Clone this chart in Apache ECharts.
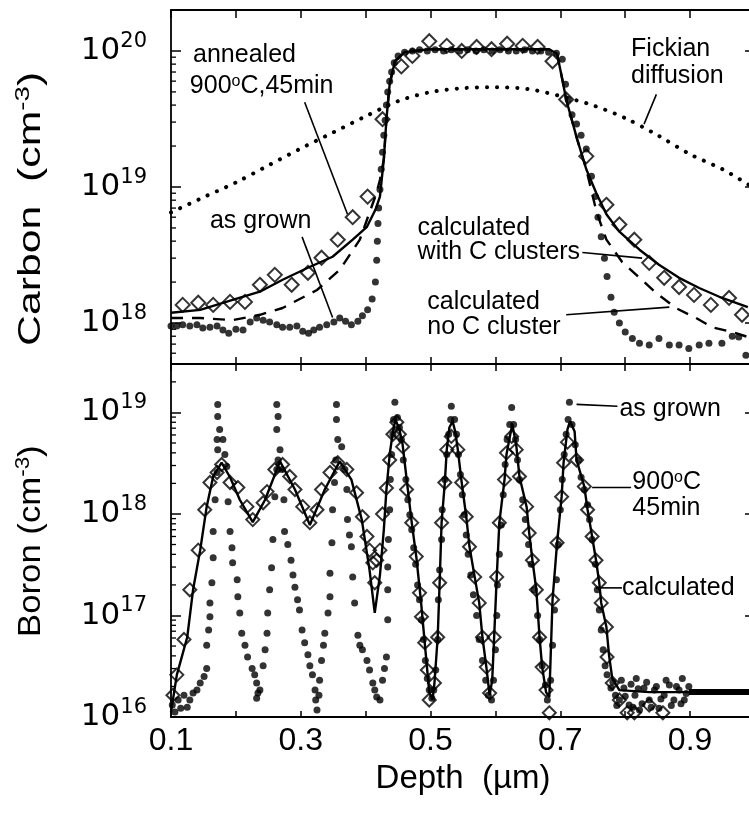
<!DOCTYPE html>
<html>
<head>
<meta charset="utf-8">
<script src="https://cdn.jsdelivr.net/npm/echarts@6/dist/echarts.min.js"></script>
<style>html,body{margin:0;padding:0;background:#fff;}#c{width:749px;height:815px;}</style>
</head>
<body>
<div id="c"></div>
<script>
// ---------- DATA (depth in µm, concentration in cm^-3) ----------
const xTickValues = [0.1, 0.3, 0.5, 0.7, 0.9];
const carbonMinorTicks = [6e17,7e17,8e17,9e17,2e18,3e18,4e18,5e18,6e18,7e18,8e18,9e18,2e19,3e19,4e19,5e19,6e19,7e19,8e19,9e19];
const boronMinorTicks = [2e16,3e16,4e16,5e16,6e16,7e16,8e16,9e16,2e17,3e17,4e17,5e17,6e17,7e17,8e17,9e17,2e18,3e18,4e18,5e18,6e18,7e18,8e18,9e18,2e19];

const carbonFickian = [[0.100,6.5e18],[0.150,8.4e18],[0.200,1.08e19],[0.250,1.44e19],[0.300,1.92e19],[0.350,2.52e19],[0.400,3.31e19],[0.450,4.28e19],[0.500,4.98e19],[0.550,5.33e19],[0.600,5.42e19],[0.650,5.25e19],[0.700,4.66e19],[0.750,3.99e19],[0.800,3.21e19],[0.850,2.40e19],[0.900,1.74e19],[0.950,1.35e19],[0.990,1.04e19]];

const carbonCalcNoCluster = [[0.100,1.09e18],[0.145,1.09e18],[0.195,1.05e18],[0.237,1.15e18],[0.272,1.29e18],[0.325,1.75e18],[0.360,2.46e18],[0.391,4.1e18],[0.406,6.5e18],[0.417,9.1e18],[0.422,1.13e19],[0.428,1.6e19],[0.432,3.15e19],[0.437,5.7e19],[0.445,8.4e19],[0.460,9.8e19],[0.498,1.03e20],[0.606,1.03e20],[0.683,1.03e20],[0.695,9.5e19],[0.703,6.2e19],[0.709,4.4e19],[0.726,2.24e19],[0.740,1.35e19],[0.756,6.5e18],[0.771,4.1e18],[0.795,2.82e18],[0.822,2.15e18],[0.848,1.66e18],[0.878,1.29e18],[0.909,1.09e18],[0.934,9.3e17],[0.965,8.6e17],[0.989,7.9e17]];

const carbonCalcClusters = [[0.100,1.19e18],[0.145,1.25e18],[0.195,1.48e18],[0.237,1.7e18],[0.272,2.08e18],[0.311,2.55e18],[0.349,3.07e18],[0.380,4.1e18],[0.402,5.1e18],[0.415,6.8e18],[0.422,8.5e18],[0.428,1.6e19],[0.432,3.15e19],[0.437,5.7e19],[0.445,8.4e19],[0.460,9.8e19],[0.498,1.03e20],[0.606,1.03e20],[0.683,1.03e20],[0.695,9.5e19],[0.703,6.2e19],[0.709,4.4e19],[0.726,2.24e19],[0.740,1.35e19],[0.755,9.1e18],[0.771,6.3e18],[0.791,4.7e18],[0.822,3.46e18],[0.852,2.68e18],[0.883,2.15e18],[0.914,1.81e18],[0.945,1.56e18],[0.989,1.31e18]];

const carbonAnnealed = [[0.118,1.36e18],[0.142,1.41e18],[0.165,1.36e18],[0.191,1.43e18],[0.214,1.43e18],[0.237,1.91e18],[0.260,2.26e18],[0.286,1.91e18],[0.311,2.34e18],[0.332,3.02e18],[0.357,4.1e18],[0.380,6.0e18],[0.403,8.5e18],[0.426,3.15e19],[0.455,7.7e19],[0.472,9.2e19],[0.498,1.18e20],[0.525,1.09e20],[0.548,1.0e20],[0.571,1.07e20],[0.594,1.03e20],[0.618,1.13e20],[0.642,1.09e20],[0.665,1.07e20],[0.688,8.4e19],[0.709,4.4e19],[0.740,1.68e19],[0.771,7.4e18],[0.791,5.3e18],[0.814,4.1e18],[0.837,2.77e18],[0.860,2.15e18],[0.883,1.84e18],[0.906,1.61e18],[0.932,1.36e18],[0.960,1.53e18],[0.980,1.15e18]];

const carbonAsGrown = [[0.100,9.5e17],[0.109,9.5e17],[0.118,9.7e17],[0.129,9.5e17],[0.140,9.7e17],[0.149,9.2e17],[0.160,9.3e17],[0.171,9.5e17],[0.180,8.9e17],[0.189,8.4e17],[0.200,9.0e17],[0.211,8.9e17],[0.222,1.02e18],[0.232,1.09e18],[0.242,1.05e18],[0.252,1.02e18],[0.263,9.7e17],[0.272,9.3e17],[0.283,9.3e17],[0.294,9.5e17],[0.303,8.7e17],[0.312,8.4e17],[0.320,8.9e17],[0.329,9.3e17],[0.340,9.7e17],[0.351,1.02e18],[0.360,1.09e18],[0.369,1.03e18],[0.378,9.7e17],[0.388,1.03e18],[0.395,1.13e18],[0.403,1.25e18],[0.410,1.5e18],[0.415,2.0e18],[0.417,2.9e18],[0.418,4.0e18],[0.419,5.4e18],[0.420,7.0e18],[0.422,9.6e18],[0.424,1.35e19],[0.426,1.8e19],[0.428,2.4e19],[0.430,3.1e19],[0.432,4.0e19],[0.434,5.0e19],[0.437,6.0e19],[0.440,7.0e19],[0.444,8.2e19],[0.450,9.2e19],[0.460,9.8e19],[0.472,1.0e20],[0.483,1.02e20],[0.495,1.0e20],[0.507,1.02e20],[0.520,1.0e20],[0.532,1.02e20],[0.545,1.0e20],[0.557,1.02e20],[0.570,1.0e20],[0.582,1.02e20],[0.595,1.0e20],[0.607,1.02e20],[0.620,1.0e20],[0.632,1.0e20],[0.645,1.02e20],[0.657,1.0e20],[0.670,1.0e20],[0.682,9.8e19],[0.694,9.6e19],[0.703,8.7e19],[0.708,5.7e19],[0.712,4.4e19],[0.718,3.4e19],[0.725,2.9e19],[0.732,2.4e19],[0.740,1.9e19],[0.748,1.2e19],[0.754,8.5e18],[0.758,6.0e18],[0.763,4.3e18],[0.768,3.0e18],[0.772,2.2e18],[0.778,1.55e18],[0.783,1.2e18],[0.791,1.0e18],[0.800,8.6e17],[0.811,7.7e17],[0.822,7.1e17],[0.837,6.9e17],[0.852,7.7e17],[0.868,6.9e17],[0.883,6.9e17],[0.898,6.5e17],[0.914,6.9e17],[0.929,7.1e17],[0.949,7.1e17],[0.965,8.0e17],[0.975,7.9e17],[0.986,5.8e17]];

const boronCalculated = [[0.100,1.12e16],[0.109,2.6e16],[0.125,6.1e16],[0.134,1.79e17],[0.145,4.4e17],[0.155,1.18e18],[0.165,2.34e18],[0.178,3.2e18],[0.191,2.3e18],[0.206,1.38e18],[0.226,8.3e17],[0.245,1.38e18],[0.268,3.3e18],[0.291,1.74e18],[0.314,7.8e17],[0.337,1.74e18],[0.360,3.3e18],[0.378,2.18e18],[0.394,8.8e17],[0.406,2.8e17],[0.414,1.06e17],[0.422,2.5e17],[0.428,7.0e17],[0.432,1.74e18],[0.437,3.85e18],[0.442,6.5e18],[0.446,8.5e18],[0.452,6.8e18],[0.457,4.8e18],[0.465,1.74e18],[0.471,8.2e17],[0.478,3.8e17],[0.485,1.43e17],[0.491,5.4e16],[0.498,1.76e16],[0.503,1.47e16],[0.506,2.16e16],[0.511,6.1e16],[0.514,2.1e17],[0.517,8.2e17],[0.522,2.04e18],[0.525,4.3e18],[0.529,7.1e18],[0.534,8.2e18],[0.538,6.5e18],[0.542,4.3e18],[0.548,2.04e18],[0.555,9.4e17],[0.560,4.75e17],[0.568,2.4e17],[0.575,1.33e17],[0.580,6.1e16],[0.586,3.1e16],[0.591,1.64e16],[0.595,2.3e16],[0.598,6.1e16],[0.602,2.4e17],[0.606,8.2e17],[0.614,2.18e18],[0.617,3.85e18],[0.622,5.7e18],[0.626,7.6e18],[0.632,4.8e18],[0.637,2.34e18],[0.648,1.18e18],[0.652,6.5e17],[0.657,3.5e17],[0.663,1.79e17],[0.668,6.1e16],[0.672,3.1e16],[0.678,1.76e16],[0.683,1.57e16],[0.688,1.43e17],[0.695,5.2e17],[0.702,1.48e18],[0.705,3.2e18],[0.711,6.8e18],[0.715,8.2e18],[0.722,6.5e18],[0.725,3.4e18],[0.737,1.86e18],[0.742,1.1e18],[0.749,6.0e17],[0.755,3.5e17],[0.760,2.1e17],[0.763,1.33e17],[0.771,7.7e16],[0.775,4.1e16],[0.780,2.4e16],[0.791,1.84e16],[0.837,1.76e16],[0.914,1.76e16],[0.989,1.76e16]];

const boronAnnealed = [[0.103,1.64e16],[0.109,2.6e16],[0.120,5.8e16],[0.129,1.79e17],[0.142,4.4e17],[0.152,1.1e18],[0.160,2.04e18],[0.171,2.56e18],[0.178,3.07e18],[0.191,2.04e18],[0.203,1.82e18],[0.217,1.18e18],[0.226,8.8e17],[0.242,1.29e18],[0.248,1.66e18],[0.260,2.74e18],[0.272,3.07e18],[0.283,2.34e18],[0.291,1.74e18],[0.303,1.18e18],[0.314,8.2e17],[0.325,1.1e18],[0.332,1.74e18],[0.345,2.56e18],[0.357,3.2e18],[0.371,2.74e18],[0.386,1.62e18],[0.395,9.4e17],[0.402,6.0e17],[0.406,4.4e17],[0.411,3.3e17],[0.414,2.1e17],[0.417,3.5e17],[0.422,4.4e17],[0.426,1.0e18],[0.432,1.8e18],[0.437,3.4e18],[0.442,6.1e18],[0.448,8.0e18],[0.452,6.1e18],[0.457,4.6e18],[0.463,1.74e18],[0.471,8.2e17],[0.478,3.8e17],[0.483,1.67e17],[0.486,9.7e16],[0.491,5.4e16],[0.495,2.9e16],[0.498,1.47e16],[0.503,9.5e15],[0.506,2.16e16],[0.511,6.1e16],[0.514,2.1e17],[0.517,8.2e17],[0.522,2.04e18],[0.525,4.3e18],[0.532,5.8e18],[0.542,4.3e18],[0.548,2.04e18],[0.555,9.4e17],[0.560,4.75e17],[0.568,2.4e17],[0.575,1.33e17],[0.580,6.1e16],[0.586,3.1e16],[0.591,1.72e16],[0.594,9.5e15],[0.598,6.1e16],[0.602,2.4e17],[0.606,8.2e17],[0.614,2.18e18],[0.617,4.0e18],[0.625,5.8e18],[0.632,4.3e18],[0.637,2.34e18],[0.648,1.18e18],[0.652,6.5e17],[0.657,3.5e17],[0.663,1.79e17],[0.668,6.1e16],[0.672,3.1e16],[0.678,1.84e16],[0.683,1.1e16],[0.688,1.43e17],[0.695,5.2e17],[0.702,1.48e18],[0.705,3.2e18],[0.711,5.1e18],[0.725,3.4e18],[0.737,1.86e18],[0.742,1.1e18],[0.749,6.0e17],[0.755,3.5e17],[0.760,2.1e17],[0.763,1.33e17],[0.771,7.7e16],[0.772,3.9e16],[0.780,2.16e16],[0.791,1.47e16],[0.803,1.1e16],[0.814,1.1e16],[0.837,1.31e16],[0.858,1.1e16],[0.883,9.5e15]];

const boronAsGrown = [[0.102,1.31e16],[0.106,1.12e16],[0.111,1.47e16],[0.115,1.22e16],[0.120,1.64e16],[0.125,1.25e16],[0.129,1.47e16],[0.134,1.72e16],[0.140,1.84e16],[0.145,2.16e16],[0.151,2.5e16],[0.155,3.0e16],[0.155,5.1e16],[0.158,7.2e16],[0.160,9.7e16],[0.160,1.33e17],[0.163,2.1e17],[0.165,3.7e17],[0.165,6.7e17],[0.168,1.38e18],[0.171,2.56e18],[0.172,4.3e18],[0.171,5.4e18],[0.175,6.8e18],[0.172,9.1e18],[0.172,1.2e19],
[0.180,5.4e18],[0.183,3.85e18],[0.186,2.93e18],[0.188,1.32e18],[0.191,6.7e17],[0.194,4.65e17],[0.195,3.3e17],[0.202,2.25e17],[0.203,1.53e17],[0.206,1.06e17],[0.209,6.7e16],[0.214,5.1e16],[0.218,3.9e16],[0.225,3.0e16],[0.229,2.6e16],[0.232,2.16e16],[0.234,1.72e16],[0.232,1.53e16],
[0.237,1.84e16],[0.242,3.2e16],[0.245,4.6e16],[0.248,6.7e16],[0.249,1.06e17],[0.252,1.79e17],[0.255,2.95e17],[0.257,5.6e17],[0.260,1.48e18],[0.263,2.74e18],[0.265,3.4e18],[0.268,4.3e18],[0.263,6.8e18],[0.265,9.1e18],[0.263,1.2e19],
[0.271,2.74e18],[0.274,1.38e18],[0.275,6.7e17],[0.280,5.0e17],[0.285,3.5e17],[0.288,2.5e17],[0.291,1.9e17],[0.295,1.43e17],[0.298,1.13e17],[0.302,7.2e16],[0.306,5.4e16],[0.311,4.1e16],[0.314,3.2e16],[0.318,2.6e16],[0.322,1.84e16],[0.323,1.47e16],[0.325,1.17e16],
[0.328,1.64e16],[0.329,2.3e16],[0.332,3.6e16],[0.335,5.1e16],[0.337,6.7e16],[0.342,1.06e17],[0.345,1.53e17],[0.345,2.6e17],[0.348,5.2e17],[0.349,1.1e18],[0.352,2.04e18],[0.354,3.4e18],[0.357,5.4e18],[0.355,8.5e18],[0.355,1.2e19],
[0.363,4.6e18],[0.368,2.74e18],[0.371,1.74e18],[0.372,8.8e17],[0.375,6.2e17],[0.378,4.75e17],[0.380,2.4e17],[0.383,1.33e17],[0.388,6.4e16],[0.391,5.1e16],[0.395,4.6e16],[0.402,3.6e16],[0.406,2.9e16],[0.411,2.16e16],[0.414,1.84e16],[0.417,1.57e16],[0.422,1.47e16],
[0.426,2.3e16],[0.429,3.0e16],[0.432,3.9e16],[0.434,9.1e16],[0.434,1.79e17],[0.434,3.0e17],[0.435,5.6e17],[0.437,1.1e18],[0.438,2.18e18],[0.440,3.85e18],[0.442,6.1e18],[0.443,8.5e18],[0.445,1.26e19],
[0.449,8.9e18],[0.452,7.1e18],[0.455,5.4e18],[0.458,3.4e18],[0.462,2.18e18],[0.465,1.38e18],[0.468,9.8e17],[0.471,7.0e17],[0.474,4.65e17],[0.477,3.2e17],[0.480,2.0e17],[0.483,1.43e17],[0.486,9.1e16],[0.489,5.8e16],[0.492,3.6e16],[0.495,2.4e16],[0.498,1.84e16],[0.502,1.53e16],
[0.505,1.84e16],[0.508,2.9e16],[0.511,5.8e16],[0.512,1.43e17],[0.514,2.8e17],[0.517,5.6e17],[0.518,1.1e18],[0.522,2.18e18],[0.525,3.85e18],[0.528,6.1e18],[0.531,8.5e18],[0.532,1.15e19],
[0.537,8.5e18],[0.540,6.1e18],[0.543,3.85e18],[0.546,2.45e18],[0.549,1.55e18],[0.552,9.8e17],[0.555,6.2e17],[0.558,4.0e17],[0.562,2.5e17],[0.566,1.6e17],[0.571,1.0e17],[0.575,5.8e16],[0.580,3.6e16],[0.585,2.3e16],[0.589,1.64e16],[0.594,1.47e16],
[0.597,2.3e16],[0.600,4.6e16],[0.602,1.0e17],[0.603,2.0e17],[0.606,4.0e17],[0.609,7.8e17],[0.612,1.55e18],[0.615,3.07e18],[0.618,5.4e18],[0.622,7.6e18],[0.625,1.12e19],
[0.628,7.6e18],[0.631,5.4e18],[0.634,3.4e18],[0.637,2.18e18],[0.642,1.38e18],[0.646,8.8e17],[0.651,5.0e17],[0.655,3.2e17],[0.660,1.79e17],[0.665,1.0e17],[0.668,5.8e16],[0.672,3.2e16],[0.677,2.07e16],[0.680,1.47e16],
[0.685,2.3e16],[0.688,5.1e16],[0.691,1.13e17],[0.694,2.25e17],[0.697,5.0e17],[0.700,1.1e18],[0.703,2.18e18],[0.706,3.85e18],[0.709,6.1e18],[0.712,8.5e18],[0.714,1.26e19],
[0.718,7.6e18],[0.723,4.8e18],[0.728,3.4e18],[0.732,2.3e18],[0.737,1.74e18],[0.742,1.23e18],[0.745,8.8e17],[0.749,5.6e17],[0.754,3.2e17],[0.757,1.79e17],[0.760,1.13e17],[0.763,7.2e16],[0.766,4.6e16],[0.769,3.2e16],[0.772,2.6e16],[0.778,1.93e16],[0.785,1.64e16],[0.791,1.47e16],
[0.798,1.93e16],[0.806,1.31e16],[0.815,1.64e16],[0.817,2.4e16],[0.822,1.17e16],[0.829,1.93e16],[0.837,1.47e16],[0.845,1.84e16],[0.852,1.22e16],[0.860,1.64e16],[0.868,2.07e16],[0.875,1.47e16],[0.883,1.84e16],[0.888,2.4e16],[0.891,1.47e16],[0.898,2.0e16],
[0.781,2.2e16],[0.787,1.3e16],[0.794,2.3e16],[0.800,1.6e16],[0.809,2.1e16],[0.812,1.25e16],[0.820,1.9e16],[0.826,1.35e16],[0.833,2.2e16],[0.840,1.25e16],[0.848,2.0e16],[0.855,1.5e16],[0.863,2.3e16],[0.871,1.3e16],[0.879,2.0e16],[0.886,1.35e16],[0.894,1.7e16]];

const boronAsGrownTail = [[0.898,1.76e16],[0.995,1.76e16]];

// ---------- CHART ----------
const FONT = '"Liberation Sans", Arial, Helvetica, sans-serif';
const WIDE = '"DejaVu Sans", "Liberation Sans", sans-serif';
const chart = echarts.init(document.getElementById('c'), null, {renderer: 'canvas'});
const BLACK = '#000';
const axLine = {show: true, onZero: false, lineStyle: {color: BLACK, width: 1.8}};

function decadeLabel(v) {
  const lg = Math.log10(v);
  const e = Math.round(lg);
  if (Math.abs(lg - e) > 1e-6) return '';
  return '{b|10}{s|' + e + '}';
}
const decadeRich = {
  b: {fontSize: 31, fontFamily: WIDE, color: BLACK, lineHeight: 40, verticalAlign: 'middle'},
  s: {fontSize: 21, fontFamily: WIDE, color: BLACK, lineHeight: 23, verticalAlign: 'top'}
};

function xAxisDef(grid, pos, len, labels) {
  return {
    gridIndex: grid, type: 'value', position: pos, min: 0.1, max: 1.0, interval: 0.1,
    axisLine: axLine,
    axisTick: {show: true, inside: true, length: len, lineStyle: {color: BLACK, width: 1.5}},
    axisLabel: labels ? {
      show: true, margin: 8, color: BLACK, fontSize: 32, fontFamily: FONT,
      formatter: function (v) {
        const hit = xTickValues.some(t => Math.abs(t - v) < 1e-6);
        return hit ? v.toFixed(1) : '';
      }
    } : {show: false},
    splitLine: {show: false},
    name: labels ? 'Depth  (\u00b5m)' : '',
    nameLocation: 'middle', nameGap: 45,
    nameTextStyle: {fontSize: 33, fontFamily: FONT, color: BLACK}
  };
}
function yAxisDef(grid, pos, min, max) {
  const left = pos === 'left';
  return {
    gridIndex: grid, type: 'log', logBase: 10, position: pos, min: min, max: max,
    axisLine: axLine,
    axisTick: {show: true, inside: true, length: 10, lineStyle: {color: BLACK, width: 1.5}},
    axisLabel: left ? {show: true, margin: 24, formatter: decadeLabel, rich: decadeRich} : {show: false},
    splitLine: {show: false}
  };
}

function minorTickSeries(xi, yi, values) {
  return {
    type: 'custom', xAxisIndex: xi, yAxisIndex: yi, silent: true, z: 5,
    data: values.map(v => [0.1, v]),
    renderItem: function (params, api) {
      const p = api.coord([api.value(0), api.value(1)]);
      return {type: 'line', shape: {x1: p[0], y1: p[1], x2: p[0] + 5, y2: p[1]}, style: {stroke: BLACK, lineWidth: 1.3}};
    }
  };
}

const option = {
  animation: false,
  backgroundColor: '#fff',
  grid: [
    {left: 171, top: 10, width: 584, height: 354, containLabel: false, outerBoundsMode: 'none'},
    {left: 171, top: 364, width: 584, height: 353, containLabel: false, outerBoundsMode: 'none'}
  ],
  xAxis: [
    xAxisDef(0, 'bottom', 7, false),
    xAxisDef(0, 'top', 8, false),
    xAxisDef(1, 'top', 7, false),
    xAxisDef(1, 'bottom', 6, true)
  ],
  yAxis: [
    yAxisDef(0, 'left', 5e17, 2e20),
    yAxisDef(0, 'right', 5e17, 2e20),
    yAxisDef(1, 'left', 1e16, 3e19),
    yAxisDef(1, 'right', 1e16, 3e19)
  ],
  series: [
    {name: 'Fickian diffusion', type: 'line', xAxisIndex: 0, yAxisIndex: 0, data: carbonFickian, showSymbol: false, smooth: 0.3,
     lineStyle: {color: BLACK, width: 4, type: [0.1, 10], cap: 'round'}, z: 2},
    {name: 'calculated no C cluster', type: 'line', xAxisIndex: 0, yAxisIndex: 0, data: carbonCalcNoCluster, showSymbol: false,
     lineStyle: {color: BLACK, width: 2.4, type: [12, 9]}, z: 2},
    {name: 'calculated with C clusters', type: 'line', xAxisIndex: 0, yAxisIndex: 0, data: carbonCalcClusters, showSymbol: false,
     lineStyle: {color: BLACK, width: 2.4}, z: 2},
    {name: 'annealed 900°C,45min', type: 'scatter', xAxisIndex: 0, yAxisIndex: 0, data: carbonAnnealed, symbol: 'diamond', symbolSize: 14,
     itemStyle: {color: 'rgba(255,255,255,0)', borderColor: BLACK, borderWidth: 2}, z: 3},
    {name: 'as grown (C)', type: 'scatter', xAxisIndex: 0, yAxisIndex: 0, data: carbonAsGrown, symbol: 'circle', symbolSize: 7,
     itemStyle: {color: BLACK}, z: 4},
    minorTickSeries(0, 0, carbonMinorTicks),
    {name: 'calculated (B)', type: 'line', xAxisIndex: 3, yAxisIndex: 2, data: boronCalculated, showSymbol: false,
     lineStyle: {color: BLACK, width: 2.4}, z: 2},
    {name: '900°C 45min', type: 'scatter', xAxisIndex: 3, yAxisIndex: 2, data: boronAnnealed, symbol: 'diamond', symbolSize: 13,
     itemStyle: {color: 'rgba(255,255,255,0)', borderColor: BLACK, borderWidth: 2}, z: 3},
    {name: 'as grown (B)', type: 'scatter', xAxisIndex: 3, yAxisIndex: 2, data: boronAsGrown, symbol: 'circle', symbolSize: 7,
     itemStyle: {color: BLACK}, z: 4},
    {name: 'as grown tail', type: 'line', xAxisIndex: 3, yAxisIndex: 2, data: boronAsGrownTail, showSymbol: false,
     lineStyle: {color: BLACK, width: 6}, z: 4},
    minorTickSeries(3, 2, boronMinorTicks)
  ]
};
chart.setOption(option);

// ---------- ANNOTATIONS (anchored in data coordinates) ----------
function P(panel, pt) {
  return chart.convertToPixel(panel === 0 ? {seriesIndex: 2} : {seriesIndex: 6}, pt);
}
const els = [];
function txt(panel, pt, text) {
  const p = P(panel, pt);
  els.push({type: 'text', x: p[0], y: p[1], z: 20, style: {
    text: text, fontSize: 25, fontFamily: FONT, fill: BLACK, textFill: BLACK,
    textAlign: 'left', textVerticalAlign: 'middle',
    rich: {s: {fontSize: 16, fontFamily: FONT, textFill: BLACK, fill: BLACK, textVerticalAlign: 'top', verticalAlign: 'top'}}
  }});
}
function lead(panel, a, b) {
  const p = P(panel, a), q = P(panel, b);
  els.push({type: 'line', z: 20, shape: {x1: p[0], y1: p[1], x2: q[0], y2: q[1]}, style: {stroke: BLACK, lineWidth: 1.6}});
}
// axis titles (rotated, reading upward), centred beside each panel
function yTitle(panel, anchorValue, text, scale) {
  const mid = P(panel, [0.1, anchorValue]);
  els.push({type: 'text', x: 31, y: mid[1], rotation: Math.PI / 2, scaleX: scale, z: 20, style: {
    text: text, fill: BLACK, textFill: BLACK, textAlign: 'center', textVerticalAlign: 'middle',
    rich: {
      t: {fontSize: 31, fontFamily: FONT, textFill: BLACK, fill: BLACK, lineHeight: 36},
      u: {fontSize: 20, fontFamily: FONT, textFill: BLACK, fill: BLACK, lineHeight: 20, textVerticalAlign: 'top', verticalAlign: 'top'}
    }
  }});
}
yTitle(0, 6.9e18, '{t|Carbon  (cm}{u|-3}{t|)}', 1.38);
yTitle(1, 5.4e17, '{t|Boron (cm}{u|-3}{t|)}', 1.12);
// top panel
txt(0, [0.134, 9.3e19], 'annealed');
txt(0, [0.129, 5.5e19], '900{s|o}C,45min');
txt(0, [0.160, 5.6e18], 'as grown');
txt(0, [0.809, 1.03e20], 'Fickian');
txt(0, [0.809, 6.5e19], 'diffusion');
txt(0, [0.480, 5.0e18], 'calculated');
txt(0, [0.480, 3.3e18], 'with C clusters');
txt(0, [0.495, 1.43e18], 'calculated');
txt(0, [0.495, 9.3e17], 'no C cluster');
lead(0, [0.306, 4.2e19], [0.372, 6.3e18]);
lead(0, [0.302, 4.3e18], [0.349, 1.1e18]);
lead(0, [0.848, 4.8e19], [0.829, 2.9e19]);
lead(0, [0.734, 3.3e18], [0.826, 3.0e18]);
lead(0, [0.709, 1.15e18], [0.868, 1.31e18]);
// bottom panel
txt(1, [0.791, 1.07e19], 'as grown');
txt(1, [0.811, 2.04e18], '900{s|o}C');
txt(1, [0.811, 1.13e18], '45min');
txt(1, [0.795, 1.87e17], 'calculated');
lead(1, [0.725, 1.2e19], [0.788, 1.15e19]);
lead(1, [0.749, 1.82e18], [0.809, 1.82e18]);
lead(1, [0.755, 1.87e17], [0.795, 1.87e17]);

chart.setOption({graphic: {elements: els}});
</script>
</body>
</html>
